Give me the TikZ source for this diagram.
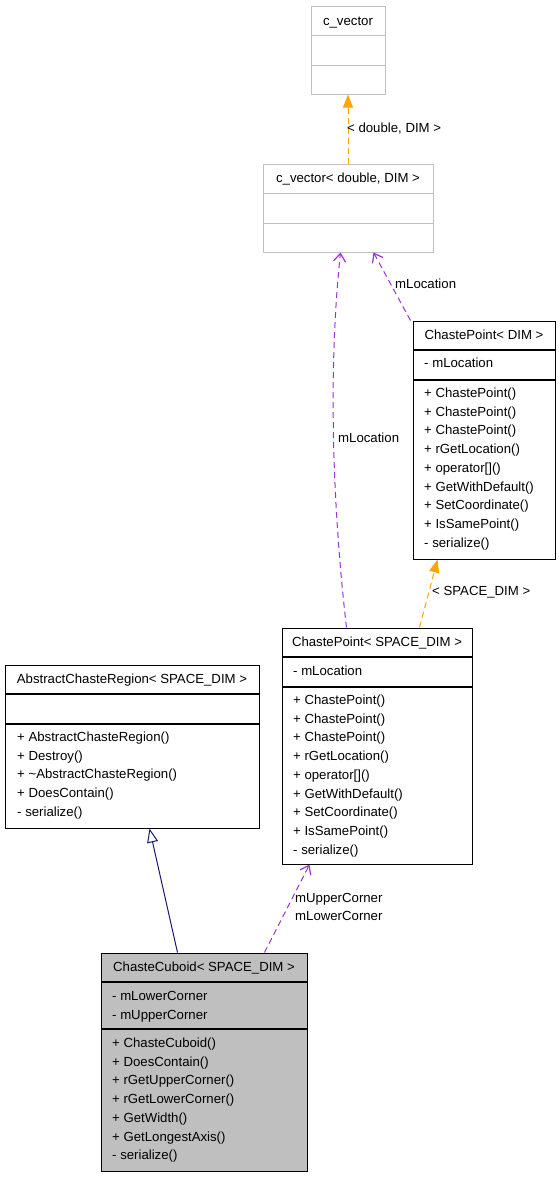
\documentclass[tikz,border=0pt]{standalone}
\usepackage{fontspec}
\setmainfont{Liberation Sans}
\usetikzlibrary{arrows.meta}
\definecolor{boxgray}{HTML}{BFBFBF}
\definecolor{usepurple}{HTML}{9A32CD}
\definecolor{tmplorange}{HTML}{FFA500}
\definecolor{inhnavy}{HTML}{191970}
\begin{document}
\begin{tikzpicture}[x=1pt,y=-1pt,
  every node/.style={font=\fontsize{13.2}{15}\selectfont},
  umlbox/.style={draw=black,line width=1pt,inner sep=0pt,rectangle},
  graybox/.style={umlbox,draw=boxgray},
  sep/.style={line width=1.4pt},
  txt/.style={anchor=base west,inner sep=0pt},
  ctxt/.style={anchor=base,inner sep=0pt},
  tmpl/.style={tmplorange,line width=1pt,dash pattern=on 6pt off 4pt,-{Triangle[length=13pt,width=10pt]}},
  usage/.style={usepurple,line width=1pt,dash pattern=on 6pt off 4pt,-{Straight Barb[length=8pt,width=12pt,line width=1.2pt]}},
  inh/.style={inhnavy,line width=1pt,-{Triangle[open,length=14pt,width=11pt,fill=white]}},
  lbl/.style={anchor=base west,inner sep=0pt}]
\useasboundingbox (0,0) rectangle (560,1179);

% c_vector
\node[graybox,minimum width=74pt,minimum height=88pt] (cv) at (348,50) {};
\draw[boxgray,line width=1pt] (311,35.5) -- (385,35.5) (311,65) -- (385,65);
\node[ctxt] (cvt) at (348,25) {c\_vector};

% c_vector<double,DIM>
\node[graybox,minimum width=170pt,minimum height=88pt] (cvd) at (348,208) {};
\draw[boxgray,line width=1pt] (263,193.5) -- (433,193.5) (263,223) -- (433,223);
\node[ctxt] (cvdt) at (348,182.5) {c\_vector< double, DIM >};

% ChastePoint<DIM>
\node[umlbox,minimum width=142pt,minimum height=238pt] (cpd) at (484,440) {};
\draw[sep] (413,350) -- (555,350) (413,380) -- (555,380);
\node[ctxt] (cpdt) at (484,339.5) {ChastePoint< DIM >};
\node[txt] (cpd0) at (424,367.5) {- mLocation};
\node[txt] (cpd1) at (424,397.5) {+ ChastePoint()};
\node[txt] (cpd2) at (424,416.2) {+ ChastePoint()};
\node[txt] (cpd3) at (424,434.9) {+ ChastePoint()};
\node[txt] (cpd4) at (424,453.6) {+ rGetLocation()};
\node[txt] (cpd5) at (424,472.3) {+ operator[]()};
\node[txt] (cpd6) at (424,491) {+ GetWithDefault()};
\node[txt] (cpd7) at (424,509.7) {+ SetCoordinate()};
\node[txt] (cpd8) at (424,528.4) {+ IsSamePoint()};
\node[txt] (cpd9) at (424,547.1) {- serialize()};

% ChastePoint<SPACE_DIM>
\node[umlbox,minimum width=190pt,minimum height=236pt] (cps) at (377,746) {};
\draw[sep] (282,657) -- (472,657) (282,687) -- (472,687);
\node[ctxt] (cpst) at (377,646.5) {ChastePoint< SPACE\_DIM >};
\node[txt] (cps0) at (293,675.5) {- mLocation};
\node[txt] (cps1) at (293,704.5) {+ ChastePoint()};
\node[txt] (cps2) at (293,723.2) {+ ChastePoint()};
\node[txt] (cps3) at (293,741.9) {+ ChastePoint()};
\node[txt] (cps4) at (293,760.6) {+ rGetLocation()};
\node[txt] (cps5) at (293,779.3) {+ operator[]()};
\node[txt] (cps6) at (293,798) {+ GetWithDefault()};
\node[txt] (cps7) at (293,816.7) {+ SetCoordinate()};
\node[txt] (cps8) at (293,835.4) {+ IsSamePoint()};
\node[txt] (cps9) at (293,854.1) {- serialize()};

% AbstractChasteRegion<SPACE_DIM>
\node[umlbox,minimum width=254pt,minimum height=163pt] (acr) at (132,746.5) {};
\draw[sep] (5,694) -- (259,694) (5,724) -- (259,724);
\node[ctxt] (acrt) at (132,683.5) {AbstractChasteRegion< SPACE\_DIM >};
\node[txt] (acr1) at (17,741.5) {+ AbstractChasteRegion()};
\node[txt] (acr2) at (17,760.2) {+ Destroy()};
\node[txt] (acr3) at (17,778.9) {+ \textasciitilde AbstractChasteRegion()};
\node[txt] (acr4) at (17,797.6) {+ DoesContain()};
\node[txt] (acr5) at (17,816.3) {- serialize()};

% ChasteCuboid<SPACE_DIM>
\node[umlbox,fill=boxgray,minimum width=206pt,minimum height=218pt] (cc) at (204,1062) {};
\draw[sep] (101,982) -- (307,982) (101,1029) -- (307,1029);
\node[ctxt] (cct) at (204,971.5) {ChasteCuboid< SPACE\_DIM >};
\node[txt] (cc0) at (112,1000.5) {- mLowerCorner};
\node[txt] (cc1) at (112,1019) {- mUpperCorner};
\node[txt] (cc2) at (112,1047.5) {+ ChasteCuboid()};
\node[txt] (cc3) at (112,1066.2) {+ DoesContain()};
\node[txt] (cc4) at (112,1084.9) {+ rGetUpperCorner()};
\node[txt] (cc5) at (112,1103.6) {+ rGetLowerCorner()};
\node[txt] (cc6) at (112,1122.3) {+ GetWidth()};
\node[txt] (cc7) at (112,1141) {+ GetLongestAxis()};
\node[txt] (cc8) at (112,1159.7) {- serialize()};

% connectors
\draw[tmpl] (cvd.north) -- (cv.south);
\node[lbl] (l1) at (347,132.5) {< double, DIM >};

\draw[usage] ([xshift=-2pt]cpd.north west) -- ([xshift=111pt]cvd.south west);
\node[lbl] (l2) at (395,288.5) {mLocation};

\draw[usage] ([xshift=65pt]cps.north west) .. controls (334,520) and (327,380) .. ([xshift=78pt]cvd.south west);
\node[lbl] (l3) at (338,442.5) {mLocation};

\draw[tmpl] ([xshift=138pt]cps.north west) -- ([xshift=25pt]cpd.south west);
\node[lbl] (l4) at (432,595.5) {< SPACE\_DIM >};

\draw[inh] ([xshift=77pt]cc.north west) -- ([xshift=145pt]acr.south west);

\draw[usage] ([xshift=164pt]cc.north west) -- ([xshift=28pt]cps.south west);
\node[lbl] (l5) at (295,902.5) {mUpperCorner};
\node[lbl] (l6) at (295,920.5) {mLowerCorner};
\end{tikzpicture}
\end{document}
